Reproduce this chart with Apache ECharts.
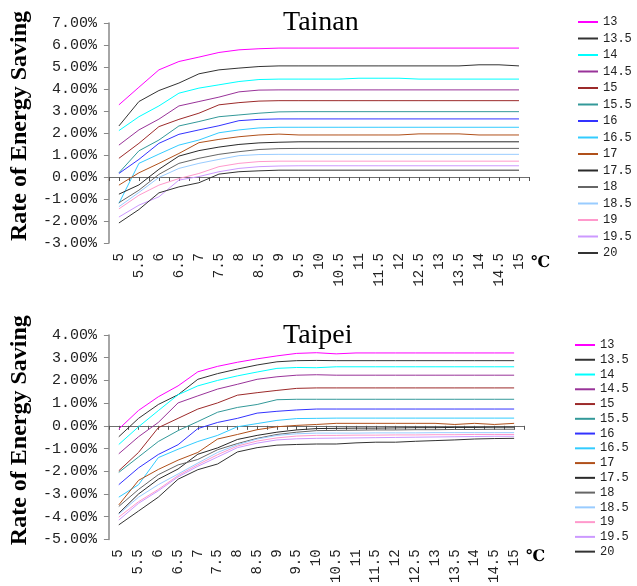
<!DOCTYPE html>
<html>
<head>
<meta charset="utf-8">
<script src="https://cdn.jsdelivr.net/npm/echarts/dist/echarts.min.js"></script>
<style>
html, body { margin: 0; padding: 0; background: #fff; }
#chart { width: 637px; height: 586px; }
</style>
</head>
<body>
<div id="chart"></div>
<script>
// outdoor temperature (x axis categories)
var temps = [5, 5.5, 6, 6.5, 7, 7.5, 8, 8.5, 9, 9.5, 10, 10.5, 11, 11.5, 12, 12.5, 13, 13.5, 14, 14.5, 15];
// set point of each curve (legend)
var setPoints = ['13', '13.5', '14', '14.5', '15', '15.5', '16', '16.5', '17', '17.5', '18', '18.5', '19', '19.5', '20'];
var lineColors = ['#ff00ff', '#333333', '#00ffff', '#993399', '#9c2a2a', '#339999', '#3333ff', '#33ccff',
                  '#b0501a', '#2a2a2a', '#666666', '#99ccff', '#ff99cc', '#cc99ff', '#333333'];

// Tainan, rate of energy saving (%)
var tainan13   = [3.28, 4.08, 4.87, 5.25, 5.45, 5.66, 5.78, 5.83, 5.86, 5.86, 5.86, 5.86, 5.86, 5.86, 5.86, 5.86, 5.86, 5.86, 5.86, 5.86, 5.86];
var tainan13_5 = [2.32, 3.43, 3.93, 4.27, 4.69, 4.87, 4.95, 5.02, 5.05, 5.05, 5.05, 5.05, 5.05, 5.05, 5.05, 5.05, 5.05, 5.05, 5.10, 5.10, 5.05];
var tainan14   = [2.11, 2.74, 3.23, 3.81, 4.04, 4.19, 4.34, 4.43, 4.45, 4.45, 4.45, 4.45, 4.49, 4.49, 4.49, 4.45, 4.45, 4.45, 4.45, 4.45, 4.45];
var tainan14_5 = [1.45, 2.14, 2.63, 3.23, 3.43, 3.63, 3.87, 3.95, 3.96, 3.96, 3.96, 3.96, 3.96, 3.96, 3.96, 3.96, 3.96, 3.96, 3.96, 3.96, 3.96];
var tainan15   = [0.85, 1.53, 2.29, 2.62, 2.90, 3.28, 3.38, 3.45, 3.47, 3.47, 3.47, 3.47, 3.47, 3.47, 3.47, 3.47, 3.47, 3.47, 3.47, 3.47, 3.47];
var tainan15_5 = [0.19, 1.19, 1.68, 2.32, 2.52, 2.74, 2.82, 2.90, 2.96, 2.97, 2.97, 2.97, 2.97, 2.97, 2.97, 2.97, 2.97, 2.97, 2.97, 2.97, 2.97];
var tainan16   = [0.16, 0.80, 1.53, 1.94, 2.14, 2.33, 2.56, 2.62, 2.64, 2.64, 2.64, 2.64, 2.64, 2.64, 2.64, 2.64, 2.64, 2.64, 2.64, 2.64, 2.64];
var tainan16_5 = [-1.20, 0.62, 1.04, 1.45, 1.68, 2.01, 2.14, 2.23, 2.26, 2.26, 2.26, 2.26, 2.26, 2.26, 2.26, 2.26, 2.26, 2.26, 2.26, 2.26, 2.26];
var tainan17   = [-0.37, 0.19, 0.62, 1.07, 1.56, 1.71, 1.83, 1.91, 1.95, 1.91, 1.91, 1.91, 1.91, 1.91, 1.91, 1.96, 1.96, 1.96, 1.91, 1.91, 1.91];
var tainan17_5 = [-0.78, -0.36, 0.35, 0.95, 1.20, 1.36, 1.48, 1.55, 1.58, 1.60, 1.60, 1.60, 1.60, 1.60, 1.60, 1.60, 1.60, 1.60, 1.60, 1.60, 1.60];
var tainan18   = [-1.17, -0.60, 0.12, 0.62, 0.85, 1.03, 1.15, 1.25, 1.29, 1.30, 1.30, 1.30, 1.30, 1.30, 1.30, 1.30, 1.30, 1.30, 1.30, 1.30, 1.30];
var tainan18_5 = [-1.35, -0.70, -0.02, 0.39, 0.62, 0.80, 0.97, 1.02, 1.03, 1.03, 1.03, 1.03, 1.03, 1.03, 1.03, 1.03, 1.03, 1.03, 1.03, 1.03, 1.03];
var tainan19   = [-1.45, -0.83, -0.37, -0.07, 0.16, 0.47, 0.62, 0.70, 0.72, 0.72, 0.72, 0.72, 0.72, 0.72, 0.72, 0.72, 0.72, 0.72, 0.72, 0.72, 0.72];
var tainan19_5 = [-1.82, -1.28, -0.90, -0.14, 0.02, 0.24, 0.39, 0.47, 0.50, 0.51, 0.51, 0.51, 0.51, 0.51, 0.51, 0.51, 0.51, 0.51, 0.51, 0.51, 0.51];
var tainan20   = [-2.09, -1.48, -0.72, -0.45, -0.26, 0.13, 0.24, 0.28, 0.31, 0.31, 0.31, 0.31, 0.31, 0.31, 0.31, 0.31, 0.31, 0.31, 0.31, 0.31, 0.31];

// Taipei, rate of energy saving (%)
var taipei13   = [-0.14, 0.68, 1.28, 1.76, 2.38, 2.62, 2.80, 2.95, 3.08, 3.19, 3.22, 3.17, 3.21, 3.21, 3.21, 3.21, 3.21, 3.21, 3.21, 3.21, 3.21];
var taipei13_5 = [-0.48, 0.33, 0.94, 1.37, 2.05, 2.30, 2.50, 2.68, 2.82, 2.87, 2.88, 2.87, 2.87, 2.87, 2.87, 2.87, 2.87, 2.87, 2.87, 2.87, 2.87];
var taipei14   = [-0.82, -0.04, 0.67, 1.37, 1.76, 2.00, 2.20, 2.37, 2.53, 2.57, 2.56, 2.60, 2.60, 2.60, 2.60, 2.60, 2.60, 2.60, 2.60, 2.60, 2.60];
var taipei14_5 = [-1.23, -0.48, 0.15, 1.01, 1.32, 1.62, 1.83, 2.05, 2.16, 2.23, 2.25, 2.23, 2.23, 2.23, 2.23, 2.23, 2.23, 2.23, 2.23, 2.23, 2.23];
var taipei15   = [-1.98, -1.17, -0.08, 0.33, 0.74, 1.01, 1.35, 1.46, 1.56, 1.65, 1.67, 1.67, 1.67, 1.67, 1.67, 1.67, 1.67, 1.67, 1.67, 1.67, 1.67];
var taipei15_5 = [-2.05, -1.37, -0.69, -0.21, 0.19, 0.60, 0.81, 0.94, 1.15, 1.17, 1.17, 1.17, 1.17, 1.17, 1.17, 1.17, 1.17, 1.17, 1.17, 1.17, 1.17];
var taipei16   = [-2.59, -1.85, -1.26, -0.83, -0.12, 0.15, 0.33, 0.56, 0.64, 0.70, 0.74, 0.74, 0.74, 0.74, 0.74, 0.74, 0.74, 0.74, 0.74, 0.74, 0.74];
var taipei16_5 = [-3.14, -2.59, -1.40, -1.03, -0.69, -0.42, -0.04, 0.10, 0.24, 0.32, 0.33, 0.34, 0.34, 0.34, 0.34, 0.34, 0.34, 0.34, 0.34, 0.34, 0.34];
var taipei17   = [-3.48, -2.40, -1.92, -1.51, -1.17, -0.58, -0.38, -0.17, -0.04, 0.02, 0.06, 0.11, 0.11, 0.11, 0.11, 0.11, 0.11, 0.06, 0.11, 0.06, 0.11];
var taipei17_5 = [-3.85, -3.00, -2.35, -1.90, -1.25, -0.97, -0.60, -0.42, -0.28, -0.18, -0.12, -0.11, -0.10, -0.10, -0.09, -0.08, -0.08, -0.07, -0.07, -0.06, -0.06];
var taipei18   = [-3.55, -2.80, -2.15, -1.72, -1.48, -1.05, -0.78, -0.55, -0.38, -0.28, -0.21, -0.20, -0.19, -0.18, -0.18, -0.17, -0.17, -0.16, -0.16, -0.15, -0.15];
var taipei18_5 = [-3.89, -3.14, -2.59, -2.12, -1.64, -1.17, -0.83, -0.58, -0.42, -0.35, -0.32, -0.32, -0.32, -0.31, -0.31, -0.31, -0.30, -0.30, -0.30, -0.30, -0.30];
var taipei19   = [-4.02, -3.34, -2.80, -2.19, -1.71, -1.27, -0.89, -0.67, -0.53, -0.45, -0.42, -0.42, -0.41, -0.41, -0.40, -0.40, -0.39, -0.39, -0.38, -0.38, -0.38];
var taipei19_5 = [-4.15, -3.41, -2.86, -2.25, -1.78, -1.37, -0.96, -0.76, -0.62, -0.57, -0.55, -0.54, -0.53, -0.52, -0.51, -0.50, -0.49, -0.48, -0.47, -0.46, -0.46];
var taipei20   = [-4.36, -3.75, -3.14, -2.35, -1.93, -1.68, -1.15, -0.96, -0.85, -0.82, -0.80, -0.80, -0.75, -0.72, -0.72, -0.68, -0.65, -0.62, -0.58, -0.56, -0.55];

var tainanData = [tainan13, tainan13_5, tainan14, tainan14_5, tainan15, tainan15_5, tainan16, tainan16_5,
                  tainan17, tainan17_5, tainan18, tainan18_5, tainan19, tainan19_5, tainan20];
var taipeiData = [taipei13, taipei13_5, taipei14, taipei14_5, taipei15, taipei15_5, taipei16, taipei16_5,
                  taipei17, taipei17_5, taipei18, taipei18_5, taipei19, taipei19_5, taipei20];

var monoFont = '"Liberation Mono", "DejaVu Sans Mono", monospace';
var serifFont = '"Liberation Serif", "DejaVu Serif", serif';

function pctLabel(v) {
  return v.toFixed(2) + '%';
}
// only label the half degree steps, the quarter steps just get a tick
function tempLabel(v) {
  var twice = v * 2;
  if (Math.abs(twice - Math.round(twice)) > 1e-6) return '';
  if (v < temps[0] - 1e-6 || v > temps[temps.length - 1] + 1e-6) return '';
  return String(Math.round(twice) / 2);
}

function zeroAxis(gi) {
  return {
    type: 'value', gridIndex: gi, position: 'bottom',
    min: 4.75, max: 15.25, interval: 0.25,
    axisLine: { show: true, onZero: true, lineStyle: { color: '#6e6e6e', width: 1 } },
    axisTick: { show: true, length: 4, lineStyle: { color: '#555' } },
    axisLabel: { show: false },
    splitLine: { show: false }
  };
}
function labelAxis(gi, padTop) {
  return {
    type: 'value', gridIndex: gi, position: 'bottom',
    min: 4.75, max: 15.25, interval: 0.25,
    axisLine: { show: false, onZero: false },
    axisTick: { show: false },
    splitLine: { show: false },
    axisLabel: { rotate: 90, margin: 10, formatter: tempLabel, fontFamily: monoFont, fontSize: 14, color: '#222' },
    name: '℃', nameLocation: 'end', nameGap: 2,
    nameTextStyle: { fontFamily: serifFont, fontSize: 16, fontWeight: 'bold', color: '#000',
                     verticalAlign: 'top', padding: [padTop, 0, 0, 0] }
  };
}
function rateAxis(gi, lo, hi, gap) {
  return {
    type: 'value', gridIndex: gi, min: lo, max: hi, interval: 1,
    axisLine: { show: true, onZero: false, lineStyle: { color: '#888', width: 1.5 } },
    axisTick: { show: true, length: 5, lineStyle: { color: '#888' } },
    splitLine: { show: false },
    axisLabel: { formatter: pctLabel, margin: 12, fontFamily: monoFont, fontSize: 15, color: '#222' },
    name: 'Rate of Energy Saving', nameLocation: 'middle', nameGap: gap,
    nameTextStyle: { fontFamily: serifFont, fontWeight: 'bold', fontSize: 24, color: '#000', padding: [0, 0, 0, 14] }
  };
}
function legendFor(left, top, gap) {
  return {
    orient: 'vertical', left: left, top: top, padding: 0,
    icon: 'rect', itemWidth: 20, itemHeight: 2, itemGap: gap,
    data: setPoints,
    textStyle: { fontFamily: monoFont, fontSize: 12, lineHeight: 12, color: '#222' }
  };
}

var series = [];
function addSeries(dataSets, xi, yi) {
  for (var i = 0; i < setPoints.length; i++) {
    var vals = dataSets[i];
    series.push({
      name: setPoints[i], type: 'line', xAxisIndex: xi, yAxisIndex: yi,
      data: temps.map(function (t, k) { return [t, vals[k]]; }),
      symbol: 'none', smooth: false,
      lineStyle: { width: 1, color: lineColors[i] },
      itemStyle: { color: lineColors[i] },
      emphasis: { disabled: true }
    });
  }
}
addSeries(tainanData, 0, 0);
addSeries(taipeiData, 2, 1);

var myChart = echarts.init(document.getElementById('chart'));
var option = {
  animation: false,
  backgroundColor: '#fff',
  title: [
    { text: 'Tainan', left: 283, top: 9, padding: 0,
      textStyle: { fontFamily: serifFont, fontSize: 28, fontWeight: 'normal', color: '#000' } },
    { text: 'Taipei', left: 283, top: 322, padding: 0,
      textStyle: { fontFamily: serifFont, fontSize: 28, fontWeight: 'normal', color: '#000' } }
  ],
  legend: [legendFor(578, 16, 4.5), legendFor(575, 339, 2.76)],
  grid: [
    { left: 101, top: 23, width: 428, height: 220 },
    { left: 94, top: 335, width: 430, height: 221 }
  ],
  xAxis: [zeroAxis(0), labelAxis(0, 12), zeroAxis(1), labelAxis(1, 9)],
  yAxis: [rateAxis(0, -3, 7, 66), rateAxis(1, -5, 4, 59)],
  series: series
};
myChart.setOption(option);
</script>
</body>
</html>
